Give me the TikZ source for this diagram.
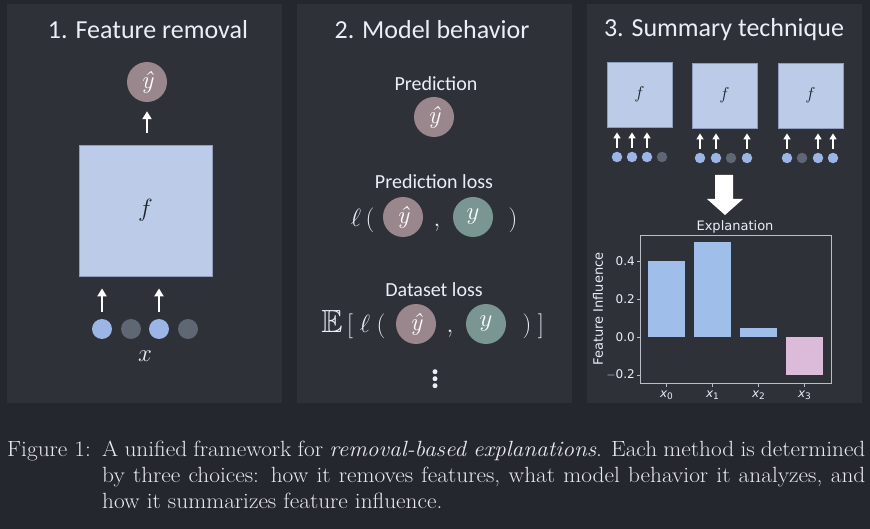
\documentclass[tikz,border=0pt]{standalone}
\usepackage{amssymb}
\usepackage{graphicx}
\usepackage{fontspec}
\newfontfamily\carl{Carlito}
\newfontfamily\dejavu{DejaVu Sans}
\usetikzlibrary{arrows.meta}
\definecolor{outerbg}{HTML}{24272E}
\definecolor{panelbg}{HTML}{2E3138}
\definecolor{txtcol}{HTML}{E9EEF7}
\definecolor{boxblue}{HTML}{BCCBE8}
\definecolor{boxedge}{HTML}{8E9DBD}
\definecolor{mauve}{HTML}{9A878D}
\definecolor{tealc}{HTML}{7A9693}
\definecolor{bluedot}{HTML}{9CB5E7}
\definecolor{graydot}{HTML}{5F6674}
\definecolor{barblue}{HTML}{9FBFEA}
\definecolor{barpink}{HTML}{DABCDA}
\definecolor{axcol}{HTML}{B8BDC8}
\definecolor{capcol}{HTML}{E8EAEE}
\definecolor{fcol}{HTML}{1F2228}
\newcommand{\capline}[1]{\scalebox{1.06}[1]{#1}}
\newcommand{\yhatsym}{{\itshape ŷ}}
\begin{document}
\begin{tikzpicture}[x=1pt,y=-1pt,
  paneltitle/.style={text=txtcol,font=\carl\fontsize{26}{30}\selectfont,inner sep=0},
  lbl/.style={text=txtcol,font=\carl\fontsize{20}{24}\selectfont,inner sep=0},
  fboxbig/.style={fill=boxblue,draw=boxedge,line width=0.8pt,minimum width=133pt,minimum height=131pt,inner sep=0,text=fcol,font=\fontsize{33}{35}\selectfont},
  fboxsmall/.style={fill=boxblue,draw=boxedge,line width=0.8pt,minimum width=65pt,minimum height=65pt,inner sep=0,text=fcol,font=\fontsize{19}{21}\selectfont},
  yhatc/.style={circle,fill=mauve,minimum size=40pt,inner sep=0,text=white,font=\fontsize{25}{27}\selectfont},
  ytruec/.style={circle,fill=tealc,minimum size=40pt,inner sep=0,text=white,font=\fontsize{25}{27}\selectfont},
  ondot/.style={circle,fill=bluedot,minimum size=20pt,inner sep=0},
  offdot/.style={circle,fill=graydot,minimum size=20pt,inner sep=0},
  ondots/.style={circle,fill=bluedot,minimum size=10.5pt,inner sep=0},
  offdots/.style={circle,fill=graydot,minimum size=10.5pt,inner sep=0},
  vdot/.style={circle,fill=txtcol,minimum size=5pt,inner sep=0},
  uparr/.style={-{Triangle[width=9pt,length=8pt]},draw=white,line width=2.8pt},
  uparrs/.style={-{Triangle[width=7pt,length=6pt]},draw=white,line width=2.2pt},
  mathglyph/.style={text=txtcol,font=\fontsize{31}{34}\selectfont,inner sep=0,anchor=base},
  mathglyphb/.style={text=txtcol,font=\fontsize{32}{35}\selectfont,inner sep=0,anchor=base},
  ticklbl/.style={text=txtcol,font=\dejavu\fontsize{12}{14}\selectfont,inner sep=0},
  captxt/.style={text=capcol,font=\fontsize{22}{26}\selectfont,inner sep=0,anchor=base west}]
\useasboundingbox (0,0) rectangle (870,529);
\fill[outerbg] (0,0) rectangle (870,529);
% panels
\fill[panelbg] (7,4) rectangle (282,403);
\fill[panelbg] (297,4) rectangle (572,403);
\fill[panelbg] (587,4) rectangle (862,403);

% ---------- Panel 1 ----------
\node[paneltitle] (t1) at (148,30) {1. Feature removal};
\node[yhatc] (p1y) at (147,82) {\yhatsym};
\node[fboxbig] (p1f) at (145.5,210.5) {$f$};
\draw[uparr,shorten <=12pt,shorten >=9pt] (p1f.north -| p1y) -- (p1y.south);
\node[ondot] (d1) at (102,329) {};
\node[offdot] (d2) at (131,329) {};
\node[ondot] (d3) at (159,329) {};
\node[offdot] (d4) at (188,329) {};
\draw[uparr,shorten <=7pt,shorten >=12pt] (d1.north) -- (d1.north |- p1f.south);
\draw[uparr,shorten <=7pt,shorten >=12pt] (d3.north) -- (d3.north |- p1f.south);
\node[text=txtcol,font=\fontsize{26}{28}\selectfont,inner sep=0] (xl) at (145,356) {$x$};

% ---------- Panel 2 ----------
\node[paneltitle] (t2) at (432,30) {2. Model behavior};
\node[lbl] (pred) at (436,84) {Prediction};
\node[yhatc] (p2y) at (434,117) {\yhatsym};
\node[lbl] (predloss) at (434,182) {Prediction loss};
\node[mathglyph] (l1) at (356,227) {$\ell$};
\node[mathglyph] (o1) at (370,227) {$($};
\node[yhatc] (c1a) at (403,217) {\yhatsym};
\node[mathglyph] (cm1) at (437,227) {$,$};
\node[ytruec] (c1b) at (473,217) {$y$};
\node[mathglyph] (cl1) at (513,227) {$)$};
\node[lbl] (dsloss) at (434,290) {Dataset loss};
\node[mathglyphb] (E2) at (332,333) {$\mathbb{E}$};
\node[mathglyphb] (ob2) at (350,333) {$[$};
\node[mathglyphb] (l2) at (365,333) {$\ell$};
\node[mathglyphb] (o2) at (381,333) {$($};
\node[yhatc] (c2a) at (416,324) {\yhatsym};
\node[mathglyphb] (cm2) at (450,333) {$,$};
\node[ytruec] (c2b) at (486,324) {$y$};
\node[mathglyphb] (cl2) at (527,333) {$)$};
\node[mathglyphb] (cb2) at (541,333) {$]$};
\node[vdot] (vd1) at (435,371.7) {};
\node[vdot] (vd2) at (435,378.7) {};
\node[vdot] (vd3) at (435,385.7) {};

% ---------- Panel 3 ----------
\node[paneltitle] (t3) at (724,30) {3. Summary technique};
\node[fboxsmall] (fa) at (639.5,94.5) {$f$};
\node[fboxsmall] (fb) at (724.5,95.5) {$f$};
\node[fboxsmall] (fc) at (810.5,95.5) {$f$};
% dots A
\node[ondots] (a1) at (617,157) {};
\node[ondots] (a2) at (632,157) {};
\node[ondots] (a3) at (647,157) {};
\node[offdots] (a4) at (662,157) {};
% dots B
\node[ondots] (b1) at (700,158) {};
\node[ondots] (b2) at (716,158) {};
\node[offdots] (b3) at (731,158) {};
\node[ondots] (b4) at (747,158) {};
% dots C
\node[ondots] (e1) at (787,158) {};
\node[offdots] (e2) at (802,158) {};
\node[ondots] (e3) at (818,158) {};
\node[ondots] (e4) at (833,158) {};
\foreach \d/\b in {a1/fa,a2/fa,a3/fa,b1/fb,b2/fb,b4/fb,e1/fc,e3/fc,e4/fc}
  \draw[uparrs,shorten <=4pt,shorten >=5pt] (\d.north) -- (\d.north |- \b.south);
% big arrow
\fill[white] (715,175) -- (733,175) -- (733,199) -- (743,199) -- (725,215) -- (707,199) -- (715,199) -- cycle;
% chart
\node[text=txtcol,font=\dejavu\fontsize{13}{15}\selectfont,inner sep=0] (expl) at (735,227) {Explanation};
\fill[barblue] (648,261) rectangle (685,337);
\fill[barblue] (694,242) rectangle (731,337);
\fill[barblue] (740,327.5) rectangle (777,337);
\fill[barpink] (786,337) rectangle (823,375);
\draw[axcol,line width=0.8pt] (640,235) rectangle (831,383);
\foreach \v/\t in {261/0.4,299/0.2,337/0.0,375/{$-$0.2}} {
  \draw[axcol,line width=0.8pt] (640,\v) -- (636.5,\v);
  \node[ticklbl,anchor=east] at (635,\v) {\t};
}
\foreach \cx/\i in {666.5/0,712.5/1,758.5/2,804.5/3} {
  \draw[axcol,line width=0.8pt] (\cx,383) -- (\cx,386.5);
  \node[ticklbl,anchor=base] at (\cx,397) {{\itshape x}\raisebox{-2.5pt}{\fontsize{9}{10}\selectfont\i}};
}
\node[text=txtcol,font=\dejavu\fontsize{13}{15}\selectfont,inner sep=0,rotate=90] (ylab) at (598,309) {Feature Influence};

% ---------- Caption ----------
\node[captxt] (figlab) at (7,456) {\capline{Figure 1:}};
\node[captxt] (cap1) at (102,456) {\capline{\makebox[720pt][s]{A unified framework for \textit{removal-based explanations}. Each method is determined}}};
\node[captxt] (cap2) at (102,482) {\capline{\makebox[720pt][s]{by three choices: how it removes features, what model behavior it analyzes, and}}};
\node[captxt] (cap3) at (102,508) {\capline{how it summarizes feature influence.}};
\end{tikzpicture}
\end{document}
